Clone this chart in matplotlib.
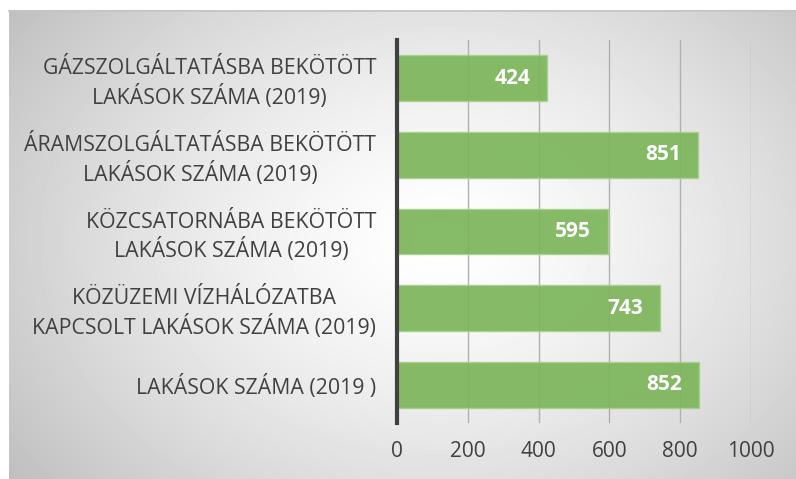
import numpy as np
import matplotlib
matplotlib.use("Agg")
import matplotlib.pyplot as plt

categories = [
    "GÁZSZOLGÁLTATÁSBA BEKÖTÖTT\nLAKÁSOK SZÁMA (2019)",
    "ÁRAMSZOLGÁLTATÁSBA BEKÖTÖTT\nLAKÁSOK SZÁMA (2019)",
    "KÖZCSATORNÁBA BEKÖTÖTT\nLAKÁSOK SZÁMA (2019)",
    "KÖZÜZEMI VÍZHÁLÓZATBA\nKAPCSOLT LAKÁSOK SZÁMA (2019)",
    "LAKÁSOK SZÁMA (2019 )",
]
values = [424, 851, 595, 743, 852]
xticks = [0, 200, 400, 600, 800, 1000]

plt.rcParams["font.family"] = ["Open Sans", "DejaVu Sans"]

W, H = 796, 479
fig = plt.figure(figsize=(W / 100, H / 100), dpi=100)

# background panel with radial grey gradient
bg = fig.add_axes([9 / W, 0, 1 - 9 / W, (H - 10) / H], zorder=0)
yy, xx = np.mgrid[0:469, 0:787]
r = np.sqrt(((xx - 430) / 560) ** 2 + ((yy - 230) / 420) ** 2)
shade = 1.0 - 0.27 * np.clip(r, 0, 1) ** 1.4
bg.imshow(shade, cmap="gray", vmin=0, vmax=1, aspect="auto", interpolation="bilinear")
bg.set_axis_off()
fig.add_artist(plt.Line2D([9 / W, 1], [1 - 10.5 / H, 1 - 10.5 / H], color="#c4c4c4", lw=1.2))

ax = fig.add_axes([397 / W, 1 - 423 / H, (751 - 397) / W, (423 - 40) / H], zorder=1)
ax.patch.set_alpha(0)
ypos = np.arange(len(values))
ax.barh(ypos, values, height=0.6, color="#7cb55a", edgecolor="#a8d08d", lw=1,
        alpha=0.92, zorder=3)
for y, v in zip(ypos, values):
    ax.annotate(str(v), (v, y), xytext=(-12, 0), textcoords="offset points",
                ha="right", va="center", color="white",
                fontsize=15, fontweight="bold", zorder=4)

ax.set_ylim(len(values) - 0.5, -0.5)
ax.set_xlim(0, 1000)
ax.set_xticks(xticks)
ax.set_xticklabels([str(t) for t in xticks], fontsize=15, color="#404040")
ax.set_yticks(ypos)
ax.set_yticklabels(categories, fontsize=15.3, color="#404040", ha="right",
                   multialignment="center", linespacing=1.3)
ax.tick_params(axis="y", length=0, pad=15)
ax.tick_params(axis="x", length=0, pad=13)
ax.grid(axis="x", color="#b0b0b0", lw=1, zorder=1)
for s in ["top", "right", "bottom"]:
    ax.spines[s].set_visible(False)
ax.spines["left"].set_color("#404040")
ax.spines["left"].set_linewidth(3)
ax.spines["left"].set_zorder(5)

fig.savefig("out.png", dpi=100)
